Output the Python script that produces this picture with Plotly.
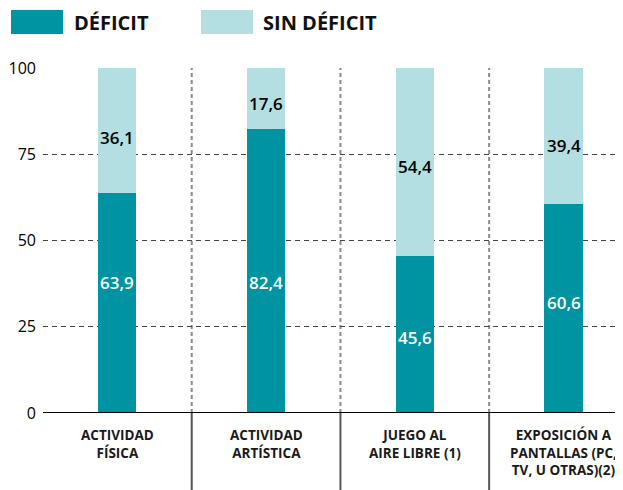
import plotly.graph_objects as go

# Data
categorias = [
    "ACTIVIDAD<br>FÍSICA",
    "ACTIVIDAD<br>ARTÍSTICA",
    "JUEGO AL<br>AIRE LIBRE (1)",
    "EXPOSICIÓN A<br>PANTALLAS (PC,<br>TV, U OTRAS)(2)",
]
deficit = [63.9, 82.4, 45.6, 60.6]
sin_deficit = [36.1, 17.6, 54.4, 39.4]
y_ticks = [0, 25, 50, 75, 100]

# label heights (value axis) as placed in the original
pos_deficit = [37.7, 37.7, 21.8, 31.9]
pos_sin = [80.0, 89.7, 71.4, 77.6]

# Colors / style
c_deficit = '#0093A1'
c_sin = '#B3DFE3'
font_family = 'Open Sans, Noto Sans, sans-serif'

OFF = 8   # page margin of the html body
W, H = 623 - OFF, 490 - OFF
L, R, T, B = 35, 0, 60, 77
plot_w = W - L - R
plot_h = H - T - B


# window pixel -> paper coords
def px_x(px):
    return (px - OFF - L) / plot_w


def px_y(py):
    return (H - B - (py - OFF)) / plot_h


x = list(range(len(categorias)))

fig = go.Figure()
fig.add_trace(go.Bar(x=x, y=deficit, name='DÉFICIT', width=0.256,
                     marker=dict(color=c_deficit, line=dict(width=0))))
fig.add_trace(go.Bar(x=x, y=sin_deficit, name='SIN DÉFICIT', width=0.256,
                     marker=dict(color=c_sin, line=dict(width=0))))

fmt = lambda v: ('%.1f' % v).replace('.', ',')

annotations = []
for i in x:
    annotations.append(dict(x=i, y=pos_deficit[i], xref='x', yref='y', text=fmt(deficit[i]),
                            showarrow=False,
                            font=dict(size=17, color='white', family=font_family, weight=600)))
    annotations.append(dict(x=i, y=pos_sin[i], xref='x', yref='y', text=fmt(sin_deficit[i]),
                            showarrow=False,
                            font=dict(size=17, color='black', family=font_family, weight=600)))
    annotations.append(dict(x=i, y=px_y(424), xref='x', yref='paper', text='<b>' + categorias[i] + '</b>',
                            showarrow=False, yanchor='top', align='center',
                            font=dict(size=13.5, color='#1a1a1a', family=font_family)))

# legend (drawn by hand)
annotations.append(dict(x=px_x(72), y=px_y(22), xref='paper', yref='paper', text='<b>DÉFICIT</b>',
                        showarrow=False, xanchor='left', yanchor='middle',
                        font=dict(size=20, color='#111', family=font_family)))
annotations.append(dict(x=px_x(261), y=px_y(22), xref='paper', yref='paper', text='<b>SIN DÉFICIT</b>',
                        showarrow=False, xanchor='left', yanchor='middle',
                        font=dict(size=20, color='#111', family=font_family)))

shapes = [
    dict(type='rect', xref='paper', yref='paper', x0=px_x(11), x1=px_x(63), y0=px_y(34), y1=px_y(10),
         fillcolor=c_deficit, line=dict(width=0)),
    dict(type='rect', xref='paper', yref='paper', x0=px_x(201), x1=px_x(253), y0=px_y(34), y1=px_y(10),
         fillcolor=c_sin, line=dict(width=0)),
    # base line
    dict(type='line', xref='paper', yref='y', x0=0, x1=1, y0=0, y1=0,
         line=dict(color='black', width=2)),
]
for b in [0.5, 1.5, 2.5]:
    shapes.append(dict(type='line', xref='x', yref='y', x0=b, x1=b, y0=0, y1=100, layer='below',
                       line=dict(color='#8a8a8a', width=2, dash='4px,3px')))
    shapes.append(dict(type='line', xref='x', yref='paper', x0=b, x1=b, y0=0, y1=px_y(492),
                       line=dict(color='#555555', width=2)))

fig.update_layout(
    width=W, height=H,
    margin=dict(l=L, r=R, t=T, b=B),
    barmode='stack',
    showlegend=False,
    plot_bgcolor='white',
    paper_bgcolor='white',
    font=dict(family=font_family, color='black'),
    xaxis=dict(range=[-0.5, 3.4], showticklabels=False, showgrid=False, zeroline=False,
               showline=False, ticks=''),
    yaxis=dict(range=[0, 100], tickvals=y_ticks, showgrid=True, griddash='5px,4px',
               gridcolor='#444444', gridwidth=1, zeroline=False, showline=False,
               ticks='', ticklabelstandoff=6, tickfont=dict(size=16, color='black')),
    annotations=annotations,
    shapes=shapes,
)

fig.write_html("out.html")
